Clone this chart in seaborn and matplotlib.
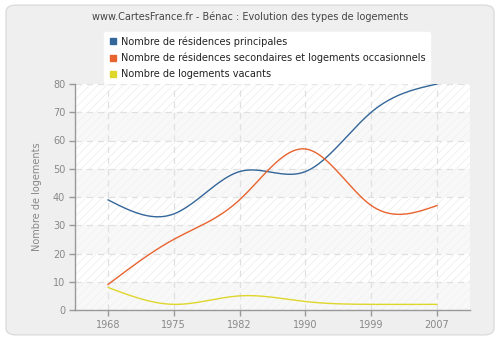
import numpy as np
import pandas as pd
import matplotlib
matplotlib.use("Agg")
import matplotlib.pyplot as plt
import seaborn as sns
from matplotlib.patches import FancyBboxPatch
from matplotlib.lines import Line2D

years = ["1968", "1975", "1982", "1990", "1999", "2007"]
principales = [39, 34, 49, 49, 70, 80]
secondaires = [9, 25, 39, 57, 37, 37]
vacants = [8, 2, 5, 3, 2, 2]
series_names = ["Nombre de résidences principales",
                "Nombre de résidences secondaires et logements occasionnels",
                "Nombre de logements vacants"]
colors = ["#336699", "#e8632e", "#dfd62a"]
yticks = [0, 10, 20, 30, 40, 50, 60, 70, 80]


def natural_spline(x, y, n=40):
    x = np.asarray(x, float)
    y = np.asarray(y, float)
    k = len(x)
    h = np.diff(x)
    A = np.zeros((k, k))
    b = np.zeros(k)
    A[0, 0] = A[-1, -1] = 1
    for i in range(1, k - 1):
        A[i, i - 1] = h[i - 1]
        A[i, i] = 2 * (h[i - 1] + h[i])
        A[i, i + 1] = h[i]
        b[i] = 3 * ((y[i + 1] - y[i]) / h[i] - (y[i] - y[i - 1]) / h[i - 1])
    c = np.linalg.solve(A, b)
    xs, ys = [], []
    for i in range(k - 1):
        bi = (y[i + 1] - y[i]) / h[i] - h[i] * (2 * c[i] + c[i + 1]) / 3
        di = (c[i + 1] - c[i]) / (3 * h[i])
        t = np.linspace(0, h[i], n, endpoint=(i == k - 2))
        xs.append(x[i] + t)
        ys.append(y[i] + bi * t + c[i] * t ** 2 + di * t ** 3)
    return np.concatenate(xs), np.concatenate(ys)


sns.set_theme(style="white")
plt.rcParams['font.family'] = ['DejaVu Sans']
plt.rcParams['hatch.linewidth'] = 0.5

fig = plt.figure(figsize=(5, 3.4), dpi=100)
fig.patch.set_facecolor("white")
bg = FancyBboxPatch((0.012, 0.015), 0.976, 0.97, boxstyle="round,pad=0,rounding_size=0.02",
                    transform=fig.transFigure, facecolor="#efefef", edgecolor="#dcdcdc",
                    linewidth=1, zorder=-10)
fig.patches.append(bg)

ax = fig.add_axes([75 / 500, 1 - 310 / 340, 395 / 500, 226 / 340])
ax.set_zorder(1)
ax.set_facecolor("#fcfcfc")

xi = np.arange(len(years))
frames = []
for name, vals in zip(series_names, [principales, secondaires, vacants]):
    sx, sy = natural_spline(xi, vals)
    frames.append(pd.DataFrame({"x": sx, "y": sy, "serie": name}))
df = pd.concat(frames, ignore_index=True)

# background bands
for i, lo in enumerate(range(0, 80, 10)):
    if i % 2 == 1:
        ax.axhspan(lo, lo + 10, facecolor="#ffffff", edgecolor="#ececec", hatch="////",
                   linewidth=0, zorder=0)
    else:
        ax.axhspan(lo, lo + 10, facecolor="#f8f8f8", edgecolor="#f1f1f1", hatch="////",
                   linewidth=0, zorder=0)

sns.lineplot(data=df, x="x", y="y", hue="serie", palette=colors, ax=ax,
             linewidth=1.0, legend=False, sort=False, zorder=3)

ax.set_xlim(-0.5, len(years) - 0.5)
ax.set_ylim(0, 80)
ax.set_xticks(xi)
ax.set_xticklabels(years)
ax.set_yticks(yticks)
ax.grid(True, color="#e0e0e0", linestyle=(0, (5, 4)), linewidth=0.9)
ax.set_axisbelow(True)
for s in ["top", "right"]:
    ax.spines[s].set_visible(False)
for s in ["left", "bottom"]:
    ax.spines[s].set_color("#999999")
    ax.spines[s].set_linewidth(1)
ax.tick_params(axis="both", colors="#999999", labelcolor="#888888", labelsize=7,
               length=4, width=1, direction="out", pad=3)
ax.tick_params(axis="both", bottom=True, left=True)
ax.set_xlabel("")
ax.set_ylabel("Nombre de logements", color="#888888", fontsize=7, labelpad=8)

fig.text(0.5, 1 - 17 / 340, "www.CartesFrance.fr - Bénac : Evolution des types de logements",
         ha="center", va="center", fontsize=7, color="#444444")

handles = [Line2D([], [], marker="s", linestyle="none", markersize=4.5, color=c) for c in colors]
leg = fig.legend(handles, series_names, loc="upper left", bbox_to_anchor=(99 / 500, 1 - 27 / 340),
                 frameon=True, fontsize=7, handletextpad=0.3, borderpad=0.45,
                 labelspacing=0.6, handlelength=1.0, fancybox=True)
leg.get_frame().set_facecolor("white")
leg.get_frame().set_edgecolor("white")
leg.get_frame().set_alpha(1)
leg.set_zorder(5)
for t in leg.get_texts():
    t.set_color("#222222")

fig.savefig("out.png", dpi=100)
